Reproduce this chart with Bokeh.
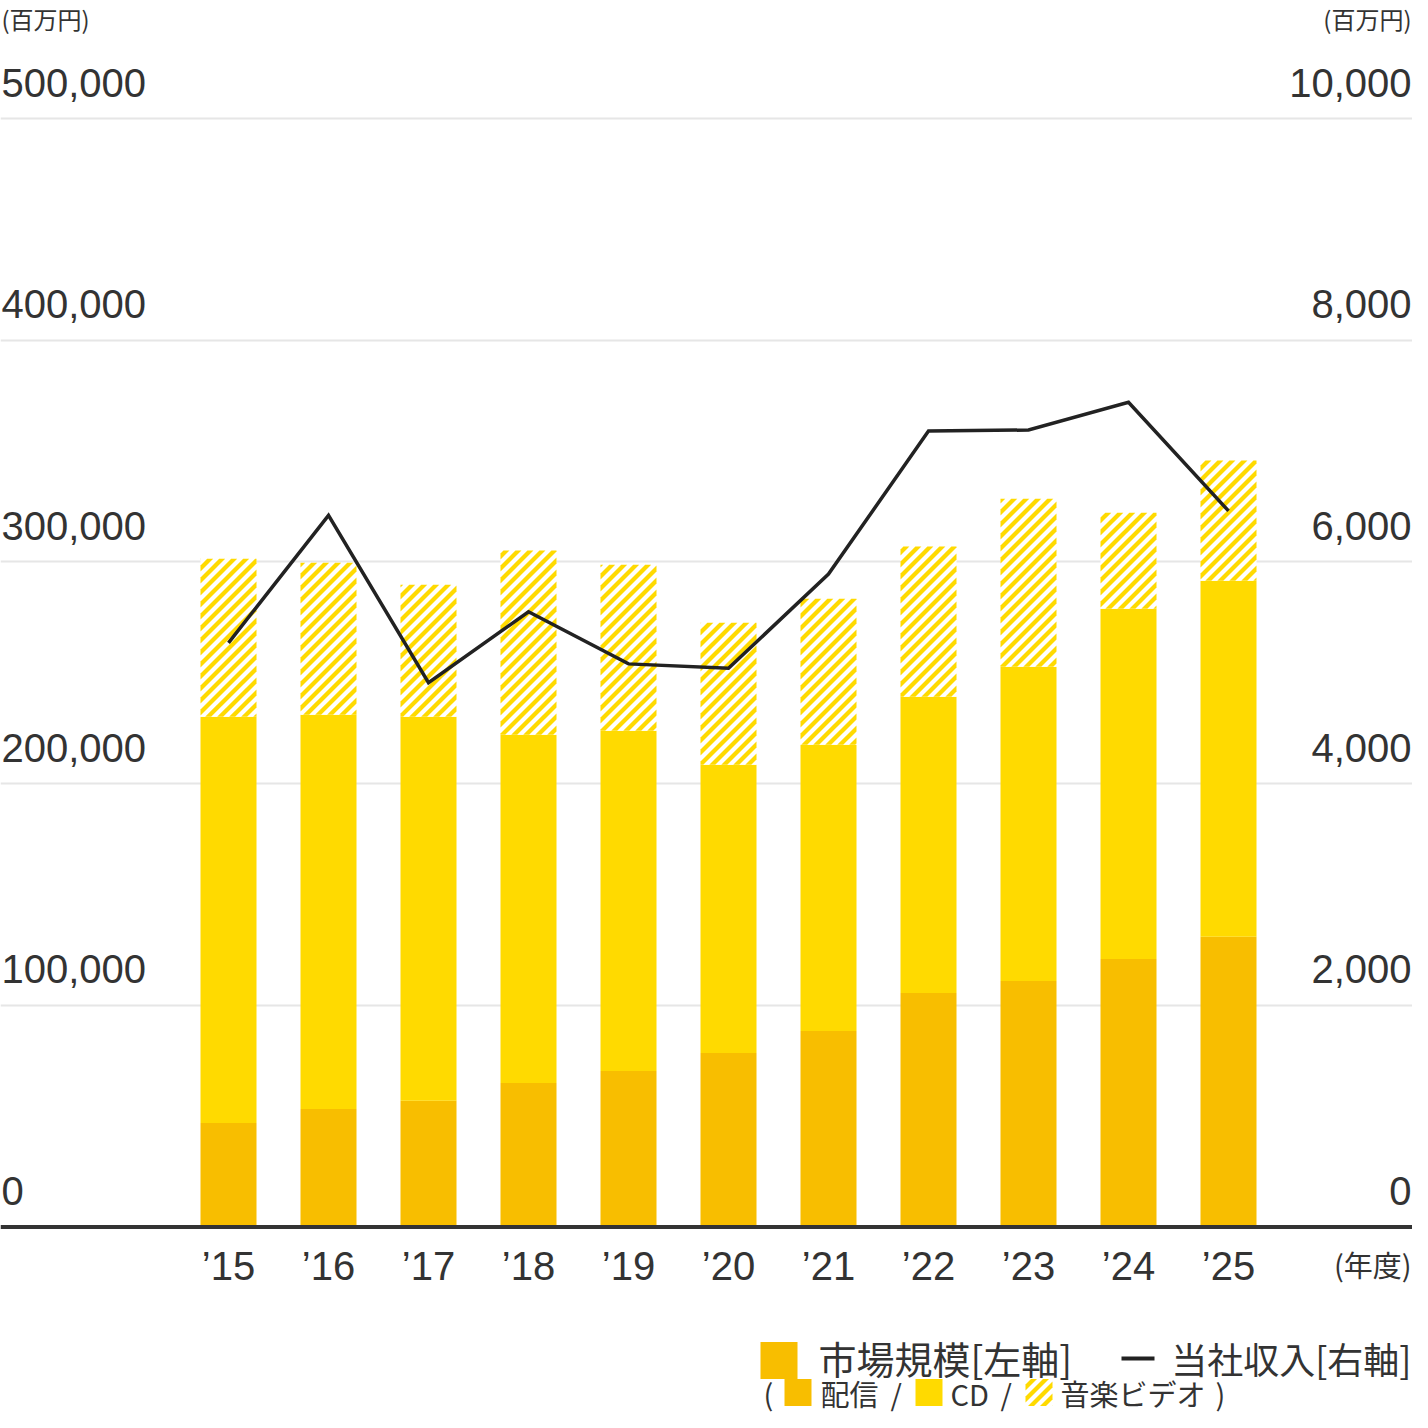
import math
from bokeh.plotting import figure
from bokeh.models import Range1d, FixedTicker, Grid, Span, ColumnDataSource
from bokeh.core.properties import value
from bokeh.embed import file_html
from bokeh.resources import INLINE
import numpy as np

# ---------------- data ----------------
years = ["\u201915", "\u201916", "\u201917", "\u201918", "\u201919", "\u201920",
         "\u201921", "\u201922", "\u201923", "\u201924", "\u201925"]
haishin = [46900, 53200, 56900, 65000, 70400, 78500, 88400, 105600, 111000, 120900, 130900]
cd = [183200, 177800, 173200, 157000, 153400, 130000, 129100, 133600, 141700, 158000, 160600]
video = [71300, 68600, 59600, 83100, 74900, 64100, 65900, 67700, 75800, 43300, 54200]
revenue = [5270, 6420, 4910, 5550, 5080, 5040, 5890, 7180, 7190, 7440, 6460]

left_ticks = [0, 100000, 200000, 300000, 400000, 500000]
left_labels = ["0", "100,000", "200,000", "300,000", "400,000", "500,000"]
right_ticks = [0, 2000, 4000, 6000, 8000, 10000]
right_labels = ["0", "2,000", "4,000", "6,000", "8,000", "10,000"]

C_HAISHIN = "#F8BE00"
C_CD = "#FFDA00"
C_TEXT = "#333333"
NUM_FONT = value("Liberation Sans")
JP_FONT = value("Noto Sans CJK JP")

# ---------------- geometry (canvas pixels) ----------------
W = H = 1412
X0, DX = 228.0, 100.0          # pixel of first bar centre, bar spacing
Y0, YTOP = 1226.5, 118.0       # pixel of 0 and of 500,000
K = 500000.0 / (Y0 - YTOP)
BAR_W = 0.56
STRIPE_P, STRIPE_W = 12.0, 6.0  # hatch period / band width (px, horizontal)


def xd(px):
    return (px - X0) / DX


def yd(py):
    return (Y0 - py) * K


def xp(x):
    return X0 + DX * x


def yp(v):
    return Y0 - v / K


def _clip(poly, c, keep_ge):
    out = []
    n = len(poly)
    for i in range(n):
        P, Q = poly[i], poly[(i + 1) % n]
        fp = P[0] + P[1] - c
        fq = Q[0] + Q[1] - c
        if not keep_ge:
            fp, fq = -fp, -fq
        if fp >= 0:
            out.append(P)
        if (fp >= 0) != (fq >= 0):
            t = fp / (fp - fq)
            out.append((P[0] + t * (Q[0] - P[0]), P[1] + t * (Q[1] - P[1])))
    return out


def stripe_polys(xl, xr, yt, yb):
    """45-degree '/' bands clipped to a pixel rectangle; returned in data units."""
    rect = [(xl, yt), (xr, yt), (xr, yb), (xl, yb)]
    k0 = math.floor((xl + yt - STRIPE_W) / STRIPE_P)
    k1 = math.ceil((xr + yb + STRIPE_W) / STRIPE_P)
    xs, ys = [], []
    for k in range(k0, k1 + 1):
        c = k * STRIPE_P
        poly = _clip(_clip(rect, c - STRIPE_W / 2, True), c + STRIPE_W / 2, False)
        if len(poly) >= 3:
            xs.append([xd(a) for a, b in poly])
            ys.append([yd(b) for a, b in poly])
    return xs, ys


p = figure(width=W, height=H, x_range=Range1d(xd(0), xd(W)),
           y_range=Range1d(yd(H), yd(0)),
           output_backend="svg", toolbar_location=None, min_border=0,
           x_axis_location=None, y_axis_location=None,
           outline_line_color=None, background_fill_color="white")
p.extra_y_ranges = {"rev": Range1d(yd(H) / 50.0, yd(0) / 50.0)}
p.xgrid.visible = False
p.ygrid.visible = False

p.add_layout(Grid(dimension=1, ticker=FixedTicker(ticks=left_ticks[1:]),
                  grid_line_color="#e6e6e6", grid_line_width=2))

idx = list(range(len(years)))
h_top = np.array(haishin, dtype=float)
cd_top = h_top + np.array(cd, dtype=float)
total = cd_top + np.array(video, dtype=float)
src = ColumnDataSource(dict(x=idx, h_top=h_top, cd_top=cd_top, total=total, rev=revenue))

p.vbar(x="x", width=BAR_W, bottom=0, top="h_top", source=src,
       fill_color=C_HAISHIN, line_color=None)
p.vbar(x="x", width=BAR_W, bottom="h_top", top="cd_top", source=src,
       fill_color=C_CD, line_color=None)
p.vbar(x="x", width=BAR_W, bottom="cd_top", top="total", source=src,
       fill_color="white", line_color=None)

# hatch of the music-video segment, derived from each bar's extent
hx, hy = [], []
for i in idx:
    xs, ys = stripe_polys(xp(i - BAR_W / 2), xp(i + BAR_W / 2), yp(total[i]), yp(cd_top[i]))
    hx += xs
    hy += ys
p.patches(xs=hx, ys=hy, fill_color=C_CD, line_color=None)

p.add_layout(Span(location=0, dimension="width", line_color="#333333", line_width=4))

p.line(x="x", y="rev", source=src, y_range_name="rev",
       line_color="#222222", line_width=3.5, line_join="miter")

# ---------------- axis labels ----------------
p.text(x=[xd(1)] * len(left_ticks), y=left_ticks, text=left_labels, y_offset=-36,
       text_font=NUM_FONT, text_font_size="40px", text_color=C_TEXT,
       text_align="left", text_baseline="alphabetic")
p.text(x=[xd(1411)] * len(right_ticks), y=right_ticks, text=right_labels,
       y_range_name="rev", y_offset=-36,
       text_font=NUM_FONT, text_font_size="40px", text_color=C_TEXT,
       text_align="right", text_baseline="alphabetic")
p.text(x=idx, y=[0] * len(idx), text=years, y_offset=39,
       text_font=NUM_FONT, text_font_size="40px", text_color=C_TEXT,
       text_align="center", text_baseline="alphabetic")

p.text(x=[xd(1)], y=[yd(18)], text=["(百万円)"], text_font=JP_FONT,
       text_font_size="24px", text_color=C_TEXT, text_align="left",
       text_baseline="alphabetic")
p.text(x=[xd(1411)], y=[yd(18)], text=["(百万円)"], text_font=JP_FONT,
       text_font_size="24px", text_color=C_TEXT, text_align="right",
       text_baseline="alphabetic")
p.text(x=[xd(1411)], y=[yd(1263)], text=["(年度)"], text_font=JP_FONT,
       text_font_size="29px", text_color=C_TEXT, text_align="right",
       text_baseline="alphabetic")

# ---------------- legend ----------------
r1 = yd(1357)
p.scatter(x=[xd(778.5)], y=[yd(1360)], marker="square", size=37,
          fill_color=C_HAISHIN, line_color=None)
p.text(x=[xd(818)], y=[r1], text=["市場規模[左軸]"], text_font=JP_FONT,
       text_font_size="38px", text_color=C_TEXT, text_align="left",
       text_baseline="middle")
p.line(x=[xd(1121), xd(1154)], y=[yd(1358), yd(1358)], line_color="#222222",
       line_width=4)
p.text(x=[xd(1411)], y=[r1], text=["当社収入[右軸]"], text_font=JP_FONT,
       text_font_size="36px", text_color=C_TEXT, text_align="right",
       text_baseline="middle")

r2_px = 1392
r2 = yd(r2_px)
p.text(x=[xd(763), xd(820), xd(890), xd(950), xd(1000), xd(1060), xd(1215)],
       y=[r2] * 7, text=["(", "配信", "/", "CD", "/", "音楽ビデオ", ")"],
       text_font=JP_FONT, text_font_size="29px", text_color=C_TEXT,
       text_align="left", text_baseline="middle")
p.scatter(x=[xd(797.5)], y=[r2], marker="square", size=27,
          fill_color=C_HAISHIN, line_color=None)
p.scatter(x=[xd(928.5)], y=[r2], marker="square", size=27,
          fill_color=C_CD, line_color=None)
lx, ly = stripe_polys(1025, 1052, r2_px - 13.5, r2_px + 13.5)
p.patches(xs=lx, ys=ly, fill_color=C_CD, line_color=None)

open("out.html", "w").write(file_html(p, INLINE))
